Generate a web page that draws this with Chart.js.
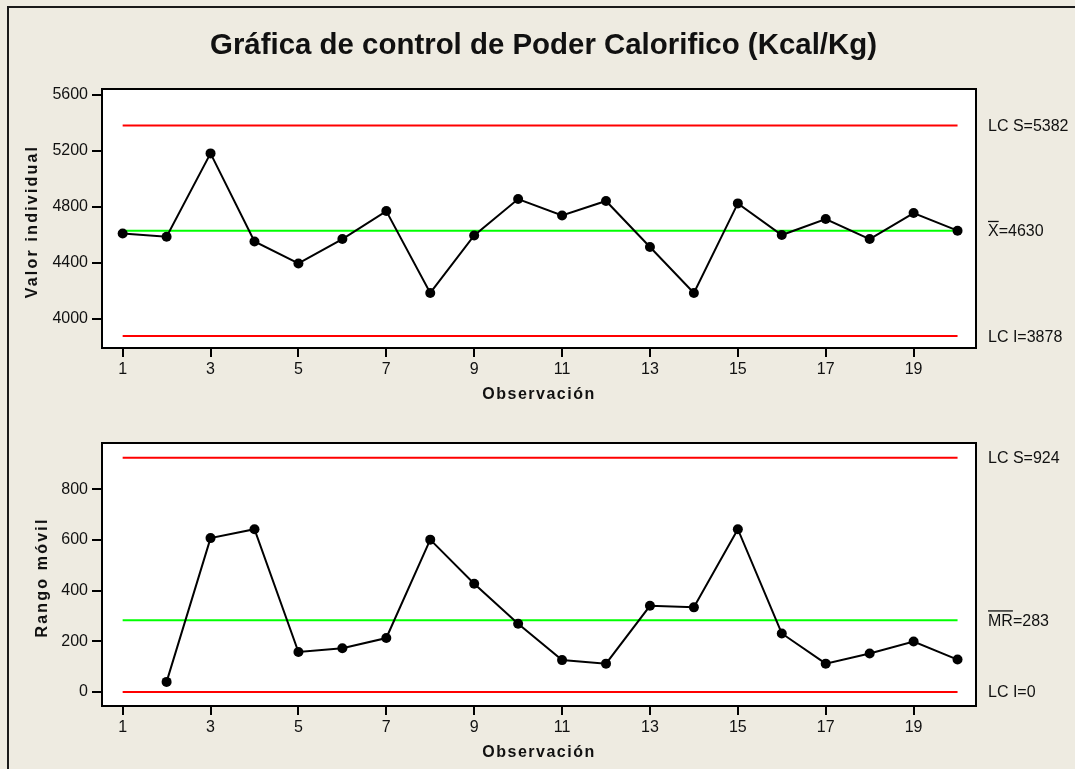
<!DOCTYPE html>
<html>
<head>
<meta charset="utf-8">
<script src="https://cdn.jsdelivr.net/npm/chart.js@4.4.1/dist/chart.umd.min.js"></script>
<style>
  html, body { margin: 0; padding: 0; width: 1075px; height: 769px; overflow: hidden; background: #EEEBE1; }
  #frame { position: absolute; left: 7px; top: 6px; width: 1200px; height: 1000px; border: 2px solid #1a1a1a; }
  canvas { position: absolute; left: 0; }
  #chartI { top: 0; }
  #chartMR { top: 410px; }
</style>
</head>
<body>
<div id="frame"></div>
<canvas id="chartI" width="1075" height="410"></canvas>
<canvas id="chartMR" width="1075" height="359"></canvas>
<script>
// Individual observations of calorific power (Kcal/Kg)
const observations = [1, 2, 3, 4, 5, 6, 7, 8, 9, 10, 11, 12, 13, 14, 15, 16, 17, 18, 19, 20];
const individualValues = [4611, 4588, 5183, 4554, 4397, 4571, 4771, 4186, 4597, 4857,
                          4740, 4843, 4514, 4186, 4826, 4600, 4714, 4571, 4757, 4631];

// Moving ranges (first one belongs to observation 2)
const rangeObservations = [2, 3, 4, 5, 6, 7, 8, 9, 10, 11, 12, 13, 14, 15, 16, 17, 18, 19, 20];
const movingRanges = [40, 607, 642, 158, 173, 213, 601, 427, 269, 126,
                      112, 340, 334, 642, 231, 112, 152, 199, 128];

// Control limits: upper, center, lower
const individualLimits = [5382, 4630, 3878];
const rangeLimits = [924, 283, 0];

// Tick values
const individualTicks = [4000, 4400, 4800, 5200, 5600];
const rangeTicks = [0, 200, 400, 600, 800];
const observationTicks = [1, 3, 5, 7, 9, 11, 13, 15, 17, 19];

const TITLE = 'Gráfica de control de Poder Calorifico (Kcal/Kg)';
const X_TITLE = 'Observación';
const FONT = '"Liberation Sans", Arial, sans-serif';

function pts(xs, ys) { return xs.map((x, i) => ({ x: x, y: ys[i] })); }
function limitLine(value, color) {
  return {
    data: [{ x: observations[0], y: value }, { x: observations[observations.length - 1], y: value }],
    borderColor: color, borderWidth: 2, pointRadius: 0, fill: false
  };
}

function makePlugin(opts) {
  return {
    id: 'spcDecor',
    beforeDraw(chart) {
      const a = chart.chartArea, ctx = chart.ctx;
      ctx.save();
      ctx.fillStyle = '#ffffff';
      ctx.fillRect(a.left, a.top, a.right - a.left, a.bottom - a.top);
      ctx.restore();
    },
    afterDraw(chart) {
      const a = chart.chartArea, ctx = chart.ctx, y = chart.scales.y;
      ctx.save();
      // plot frame
      ctx.strokeStyle = '#000';
      ctx.lineWidth = 2;
      ctx.strokeRect(a.left, a.top, a.right - a.left, a.bottom - a.top);

      ctx.fillStyle = '#111';
      // limit labels on the right
      ctx.font = '16px ' + FONT;
      ctx.textBaseline = 'middle';
      ctx.textAlign = 'left';
      const lx = 988;
      const yU = y.getPixelForValue(opts.limits[0]);
      const yC = y.getPixelForValue(opts.limits[1]);
      const yL = y.getPixelForValue(opts.limits[2]);
      ctx.fillText('LC S=' + opts.limits[0], lx, yU + 1);
      ctx.fillText('LC I=' + opts.limits[2], lx, yL + 1);
      const w = ctx.measureText(opts.centerSymbol).width;
      ctx.fillText(opts.centerSymbol + '=' + opts.limits[1], lx, yC + 1);
      ctx.fillRect(lx, yC - 10, w, 1.3);

      // axis titles
      ctx.font = 'bold 16px ' + FONT;
      ctx.letterSpacing = '1.5px';
      ctx.textAlign = 'center';
      ctx.textBaseline = 'alphabetic';
      ctx.fillText(X_TITLE, (a.left + a.right) / 2, a.bottom + 51);
      ctx.letterSpacing = '2.2px';
      ctx.save();
      ctx.translate(opts.yTitleX, (a.top + a.bottom) / 2 + 3);
      ctx.rotate(-Math.PI / 2);
      ctx.textBaseline = 'middle';
      ctx.fillText(opts.yTitle, 0, 0);
      ctx.restore();
      ctx.letterSpacing = '0px';

      // main title
      if (opts.title) {
        ctx.font = 'bold 30px ' + FONT;
        const tw = ctx.measureText(opts.title).width;
        ctx.translate(543.5, 54);
        ctx.scale(667 / tw, 1);
        ctx.textAlign = 'center';
        ctx.fillText(opts.title, 0, 0);
      }
      ctx.restore();
    }
  };
}

function makeChart(canvasId, cfg) {
  return new Chart(document.getElementById(canvasId), {
    type: 'line',
    data: {
      datasets: [
        {
          data: cfg.points,
          borderColor: '#000', borderWidth: 2,
          pointRadius: 5, pointBackgroundColor: '#000', pointBorderColor: '#000',
          pointBorderWidth: 0, fill: false, tension: 0
        },
        limitLine(cfg.limits[0], '#FF0000'),
        limitLine(cfg.limits[1], '#00FF00'),
        limitLine(cfg.limits[2], '#FF0000')
      ]
    },
    options: {
      responsive: false,
      animation: false,
      devicePixelRatio: 1,
      layout: { padding: { left: 0, right: 99, top: cfg.padTop, bottom: 0 } },
      plugins: { legend: { display: false }, tooltip: { enabled: false }, title: { display: false } },
      scales: {
        x: {
          type: 'linear', min: 0.53, max: 20.42,
          afterBuildTicks: s => { s.ticks = observationTicks.map(v => ({ value: v })); },
          afterFit: s => { s.height = cfg.xHeight; },
          grid: { drawOnChartArea: false, drawTicks: true, tickLength: 9, color: '#000', lineWidth: 2 },
          border: { display: false },
          ticks: { color: '#111', padding: 3, maxRotation: 0, font: { size: 16, family: FONT },
                   callback: v => String(v) }
        },
        y: {
          type: 'linear', min: cfg.yMin, max: cfg.yMax,
          afterBuildTicks: s => { s.ticks = cfg.yTicks.map(v => ({ value: v })); },
          afterFit: s => { s.width = 102; },
          grid: { drawOnChartArea: false, drawTicks: true, tickLength: 10, color: '#000', lineWidth: 2 },
          border: { display: false },
          ticks: { color: '#111', padding: 4, font: { size: 16, family: FONT },
                   callback: v => String(v) }
        }
      }
    },
    plugins: [makePlugin(cfg)]
  });
}

makeChart('chartI', {
  points: pts(observations, individualValues),
  limits: individualLimits,
  yTicks: individualTicks,
  yMin: 3793, yMax: 5643,
  padTop: 89, xHeight: 62,
  centerSymbol: 'X', yTitle: 'Valor individual', yTitleX: 33,
  title: TITLE
});

makeChart('chartMR', {
  points: pts(rangeObservations, movingRanges),
  limits: rangeLimits,
  yTicks: rangeTicks,
  yMin: -55, yMax: 982,
  padTop: 33, xHeight: 63,
  centerSymbol: 'MR', yTitle: 'Rango móvil', yTitleX: 43,
  title: null
});
</script>
</body>
</html>
